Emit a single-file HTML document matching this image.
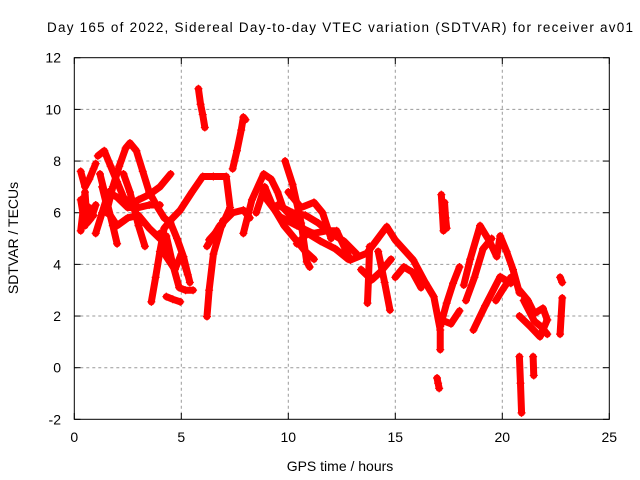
<!DOCTYPE html>
<html><head><meta charset="utf-8"><style>
body{margin:0;background:#fff;}
svg{display:block;font-family:"Liberation Sans",sans-serif;}
</style></head><body>
<svg id="chart" width="640" height="480">
<rect width="640" height="480" fill="#fff"/>
<text x="340" y="32" font-size="13.5" text-anchor="middle" textLength="586">Day 165 of 2022, Sidereal Day-to-day VTEC variation (SDTVAR) for receiver av01</text>
<text x="340" y="471" font-size="14" text-anchor="middle">GPS time / hours</text>
<text x="18" y="238" font-size="14" text-anchor="middle" transform="rotate(-90 18 238)">SDTVAR / TECUs</text>
<g id="grid"></g><g id="ticks"></g><g id="marks"></g>
<rect x="74.3" y="57.7" width="535" height="361.6" fill="none" stroke="#000" stroke-width="1"/>
</svg>
<script>
const xTicks=[0,5,10,15,20,25];
const yTicks=[-2,0,2,4,6,8,10,12];
const tracks=[
[[0.3,7.6],[0.5,7.0],[0.7,7.3],[0.9,7.7],[1.0,7.9]],
[[0.3,5.3],[0.4,6.0],[0.5,6.8],[0.6,5.6],[0.8,5.8],[1.0,6.3]],
[[0.3,6.5],[0.5,5.5],[0.7,6.2],[0.9,5.9]],
[[1.1,8.2],[1.4,8.4],[1.7,7.8],[2.0,7.2],[2.3,6.6],[2.6,6.3],[3.0,6.5],[3.5,6.7],[4.0,7.0],[4.3,7.3],[4.5,7.5]],
[[1.5,6.0],[1.8,7.0],[2.1,7.8],[2.4,8.5],[2.6,8.7],[2.9,8.4],[3.2,7.6],[3.5,6.8],[3.9,6.2],[4.2,5.8],[4.5,5.6],[4.8,5.0],[5.1,4.3],[5.4,3.3]],
[[1.2,7.5],[1.5,6.5],[1.8,5.5],[2.0,4.8]],
[[1.0,5.2],[1.3,6.0],[1.6,6.8],[2.0,6.6],[2.5,6.2],[3.0,6.2],[3.5,6.3],[4.0,6.3]],
[[1.3,7.0],[1.6,6.0],[2.0,5.5],[2.5,5.8],[3.0,5.9],[3.5,5.4],[4.0,5.0]],
[[2.3,7.5],[2.6,6.8],[3.0,5.5],[3.3,4.7]],
[[3.6,2.55],[3.8,3.5],[4.0,4.5],[4.2,5.4],[4.6,5.8],[4.95,6.1],[5.5,6.8],[6.0,7.4],[6.5,7.4],[7.1,7.4],[7.28,6.2],[6.9,5.5],[6.3,4.95]],
[[6.2,4.7],[6.8,5.5],[7.4,6.0],[7.9,6.1],[8.2,5.8]],
[[6.2,1.98],[6.3,3.0],[6.5,4.4],[6.95,5.7]],
[[7.4,7.7],[7.6,8.4],[7.8,9.2],[7.9,9.7],[8.0,9.6]],
[[5.8,10.8],[5.9,10.2],[6.0,9.8],[6.1,9.3]],
[[4.3,5.1],[4.6,4.0],[4.9,3.1],[5.2,3.0],[5.55,3.0]],
[[4.0,5.2],[4.3,4.3],[4.7,3.8],[5.0,4.4],[5.3,3.6]],
[[4.3,2.75],[4.6,2.65],[4.95,2.55]],
[[7.9,5.2],[8.3,6.5],[8.85,7.5],[9.2,7.3],[9.5,6.8],[9.75,6.2],[10.2,5.8],[10.6,5.5]],
[[8.5,6.0],[8.9,7.0],[9.3,6.2],[9.8,5.5],[10.3,5.0],[10.8,4.5],[11.2,4.2]],
[[9.85,8.0],[10.2,7.1],[10.6,5.6],[10.86,4.1],[11.0,3.9]],
[[9.0,6.5],[9.6,5.85],[10.4,5.5],[11.16,5.2],[11.8,5.3],[12.26,5.3],[12.9,4.17],[13.67,4.43],[14.6,5.46],[15.0,4.94],[15.84,4.17],[16.4,3.3],[16.8,2.75],[17.1,1.46],[17.1,0.7]],
[[9.5,6.3],[10.2,6.0],[10.8,5.9],[11.4,5.6],[12.0,5.2],[12.6,4.9],[13.2,4.4]],
[[10.0,6.8],[10.6,6.2],[11.2,6.4],[11.6,6.0],[12.0,5.0]],
[[10.4,4.8],[10.9,5.2],[11.5,4.9],[12.2,4.6],[12.8,4.2]],
[[13.8,4.69],[13.75,3.5],[13.7,2.5]],
[[14.2,4.5],[14.5,3.3],[14.75,2.23]],
[[13.4,3.8],[13.9,3.4],[14.3,3.7],[14.8,4.2]],
[[15.0,3.5],[15.4,3.9],[15.8,3.7],[16.2,3.1]],
[[17.1,1.6],[17.4,2.5],[17.7,3.27],[18.0,3.9]],
[[17.3,1.8],[17.6,1.7],[18.0,2.2]],
[[18.2,3.2],[18.5,4.2],[18.96,5.5],[19.4,4.9],[19.74,4.3],[19.9,5.1],[20.2,4.5],[20.5,3.8],[20.8,2.9]],
[[18.3,2.6],[18.7,3.5],[19.1,4.6],[19.5,5.0]],
[[18.65,1.46],[19.2,2.4],[19.9,3.52],[20.4,3.27]],
[[19.7,2.6],[20.0,3.0],[20.4,3.5]],
[[17.15,6.7],[17.2,6.0],[17.25,5.3]],
[[17.3,6.4],[17.35,5.8],[17.4,5.4]],
[[16.95,-0.4],[17.0,-0.6],[17.05,-0.8]],
[[20.8,3.0],[21.2,2.6],[21.5,2.1],[21.9,2.3],[22.1,1.85]],
[[20.8,2.0],[21.3,1.6],[21.76,1.2],[22.1,1.85]],
[[21.0,2.6],[21.5,1.8],[21.8,1.6],[22.1,1.3]],
[[20.8,0.43],[20.85,-0.6],[20.9,-1.75]],
[[21.44,0.43],[21.47,-0.3]],
[[22.7,3.5],[22.8,3.3]],
[[22.8,2.7],[22.75,2.0],[22.7,1.3]]
];
const X=t=>74.3+t*21.4, Y=v=>367.7-v*25.83;
const NS="http://www.w3.org/2000/svg";
const grid=document.getElementById('grid'),ticks=document.getElementById('ticks'),marks=document.getElementById('marks');
function mk(tag,attrs,parent){const e=document.createElementNS(NS,tag);for(const k in attrs)e.setAttribute(k,attrs[k]);parent.appendChild(e);return e;}
xTicks.forEach(t=>{
 if(t>0&&t<25){const g=mk('line',{x1:X(t),x2:X(t),y1:57.7,y2:419.3,stroke:'#999','stroke-dasharray':'3,3'},grid);
 
 }
 mk('line',{x1:X(t),x2:X(t),y1:419.3,y2:413,stroke:'#000'},ticks);
 mk('line',{x1:X(t),x2:X(t),y1:57.7,y2:64,stroke:'#000'},ticks);
 const l=mk('text',{x:X(t),y:442,'font-size':14,'text-anchor':'middle'},ticks);l.textContent=t;
 
 
});
yTicks.forEach(v=>{
 if(v>-2&&v<12){const g=mk('line',{x1:74.3,x2:609.3,y1:Y(v),y2:Y(v),stroke:'#999','stroke-dasharray':'3,3'},grid);
 
 }
 mk('line',{x1:74.3,x2:80.5,y1:Y(v),y2:Y(v),stroke:'#000'},ticks);
 mk('line',{x1:603,x2:609.3,y1:Y(v),y2:Y(v),stroke:'#000'},ticks);
 const l=mk('text',{x:61,y:Y(v)+5,'font-size':14,'text-anchor':'end'},ticks);l.textContent=v;
 
 
});
tracks.forEach(tr=>{
 const p=mk('polyline',{points:tr.map(d=>X(d[0])+','+Y(d[1])).join(' '),fill:'none',stroke:'#f00','stroke-width':7,'stroke-linejoin':'round','stroke-linecap':'round'},marks);
 
 
 tr.forEach(d=>{
  const m=mk('path',{d:`M${X(d[0])-4},${Y(d[1])}h8M${X(d[0])},${Y(d[1])-4}v8`,stroke:'#f00','stroke-width':1.2},marks);
  
  
 });
});
</script>
</body></html>
